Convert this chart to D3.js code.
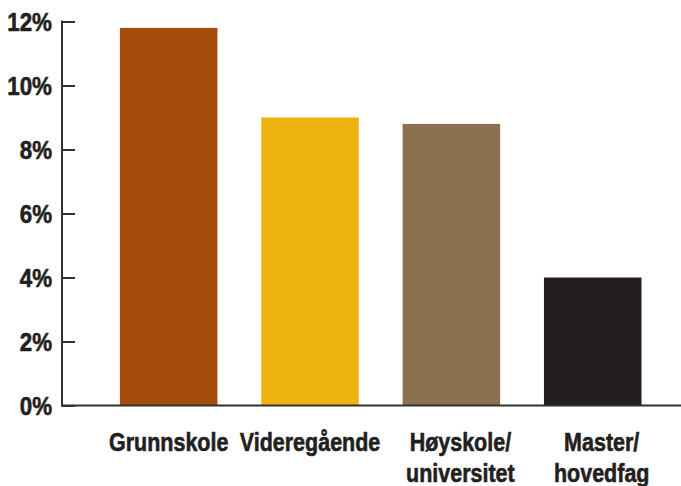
<!DOCTYPE html>
<html>
<head>
<meta charset="utf-8">
<script src="https://cdn.jsdelivr.net/npm/d3@7"></script>
<style>
  html, body { margin: 0; padding: 0; background: #fff; overflow: hidden; }
  svg { display: block; }
  text { font-family: "Liberation Sans", Arial, sans-serif; font-weight: bold; fill: #231f20;
         stroke: #231f20; stroke-width: 0.6px; stroke-linejoin: round; }
</style>
</head>
<body>
<svg id="chart" width="681" height="486"></svg>
<script>
// Share by highest completed education (percent)
const categories = ["Grunnskole", "Videregående", "Høyskole/\nuniversitet", "Master/\nhovedfag"];
const values = [11.8, 9.0, 8.8, 4.0];
const colors = ["#a54a09", "#eeb311", "#8a7250", "#231f20"];
const yTicks = [0, 2, 4, 6, 8, 10, 12];

const svg = d3.select("#chart");
const axisColor = "#333132";
const narrow = 0.86; // horizontal squeeze for a condensed look

const y = d3.scaleLinear().domain([0, 12]).range([405.5, 21.5]);
const x = d3.scaleBand()
  .domain(categories)
  .range([98, 663.4])
  .paddingInner(0.31)
  .paddingOuter(0.155);

// Bars
svg.append("g")
  .selectAll("rect")
  .data(categories)
  .join("rect")
  .attr("x", d => x(d))
  .attr("width", x.bandwidth())
  .attr("y", (d, i) => y(values[i]))
  .attr("height", (d, i) => y(0) - y(values[i]))
  .attr("fill", (d, i) => colors[i]);

// Y axis: ticks pointing inward, labels on the left
const yAxis = svg.append("g").attr("transform", "translate(62,0)")
  .call(d3.axisRight(y).tickValues(yTicks).tickSize(13).tickFormat(""));
yAxis.select(".domain").remove();
yAxis.selectAll("line").attr("stroke", axisColor).attr("stroke-width", 2);

svg.append("line")
  .attr("x1", 62).attr("x2", 62)
  .attr("y1", y(12) - 1).attr("y2", y(0))
  .attr("stroke", axisColor).attr("stroke-width", 2);

svg.append("g")
  .selectAll("text")
  .data(yTicks)
  .join("text")
  .attr("transform", d => `translate(52,${y(d)}) scale(${narrow},1)`)
  .attr("dy", "0.36em")
  .attr("text-anchor", "end")
  .attr("font-size", 26)
  .text(d => d + "%");

// X baseline spanning the full width
svg.append("line")
  .attr("x1", 61).attr("x2", 681)
  .attr("y1", y(0)).attr("y2", y(0))
  .attr("stroke", axisColor).attr("stroke-width", 2);

// Category labels (multi-line where the name contains a break)
const labels = svg.append("g")
  .selectAll("text")
  .data(categories)
  .join("text")
  .attr("text-anchor", "middle")
  .attr("font-size", 25)
  .attr("transform", d => {
    const multi = d.includes("\n");
    const cx = x(d) + x.bandwidth() / 2 + (multi ? 9 : 0);
    return `translate(${cx},451) scale(${narrow},1)`;
  });
labels.selectAll("tspan")
  .data(d => d.split("\n"))
  .join("tspan")
  .attr("x", 0)
  .attr("y", (d, i) => i * 31)
  .text(d => d);
</script>
</body>
</html>
